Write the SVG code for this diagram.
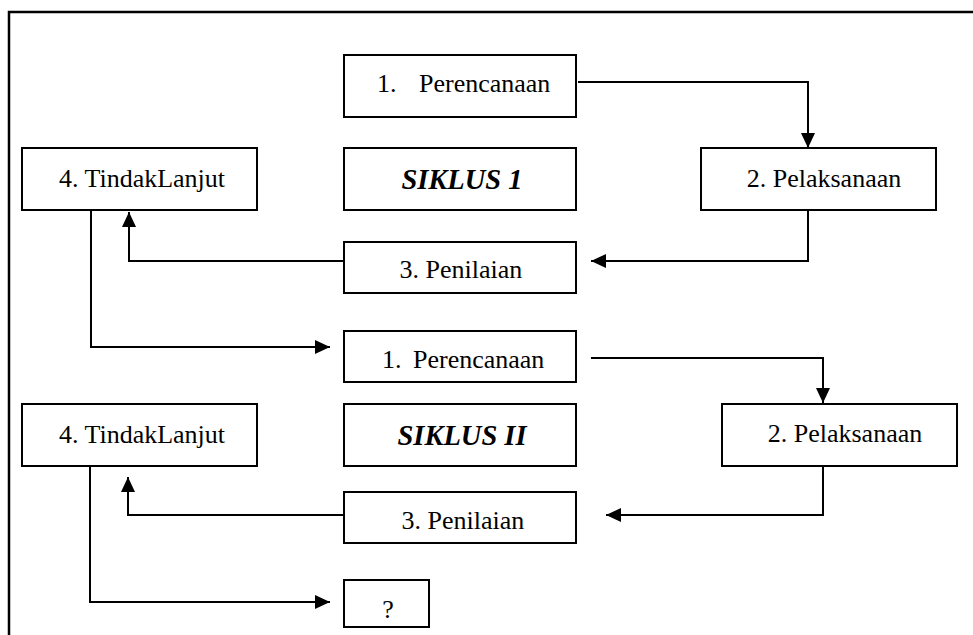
<svg xmlns="http://www.w3.org/2000/svg" width="973" height="635" viewBox="0 0 973 635">
<style>
.box{fill:#fff;stroke:#000;stroke-width:2}
.t{font-family:'Liberation Serif','Times New Roman','DejaVu Serif',serif;font-size:26px;fill:#000}
.s{font-family:'Liberation Serif','Times New Roman','DejaVu Serif',serif;font-size:28.5px;font-weight:bold;font-style:italic;fill:#000}
.c{fill:none;stroke:#000;stroke-width:2}
</style>
<defs>
<marker id="ah" markerUnits="userSpaceOnUse" markerWidth="15" markerHeight="14" refX="15" refY="7" orient="auto">
<path d="M0,0 L15,7 L0,14 Z" fill="#000"/>
</marker>
</defs>
<rect width="973" height="635" fill="#fff"/>
<path d="M9,635 V12 H973" fill="none" stroke="#000" stroke-width="2.5"/>
<g id="connectors">
<path class="c" d="M578,82 H808 V148" marker-end="url(#ah)"/>
<path class="c" d="M808,210 V261 H591" marker-end="url(#ah)"/>
<path class="c" d="M344,261 H129 V212" marker-end="url(#ah)"/>
<path class="c" d="M91,210 V347 H330" marker-end="url(#ah)"/>
<path class="c" d="M591,358 H823 V403" marker-end="url(#ah)"/>
<path class="c" d="M823,466 V515 H606" marker-end="url(#ah)"/>
<path class="c" d="M344,515 H128 V477" marker-end="url(#ah)"/>
<path class="c" d="M90,466 V602 H330" marker-end="url(#ah)"/>
</g>
<g id="perencanaan1"><rect class="box" x="344" y="55" width="232" height="62"/><text class="t" y="92"><tspan x="377">1.</tspan><tspan x="419">Perencanaan</tspan></text></g>
<g id="pelaksanaan1"><rect class="box" x="701" y="148" width="235" height="62"/><text class="t" x="824" y="187" text-anchor="middle">2. Pelaksanaan</text></g>
<g id="siklus1"><rect class="box" x="344" y="148" width="232" height="62"/><text class="s" x="462" y="189" text-anchor="middle">SIKLUS 1</text></g>
<g id="tindaklanjut1"><rect class="box" x="22" y="148" width="235" height="62"/><text class="t" x="142" y="187" text-anchor="middle">4. TindakLanjut</text></g>
<g id="penilaian1"><rect class="box" x="344" y="242" width="232" height="51"/><text class="t" x="461" y="278" text-anchor="middle">3. Penilaian</text></g>
<g id="perencanaan2"><rect class="box" x="344" y="331" width="232" height="51"/><text class="t" y="368"><tspan x="382">1.</tspan><tspan x="413">Perencanaan</tspan></text></g>
<g id="pelaksanaan2"><rect class="box" x="722" y="404" width="235" height="62"/><text class="t" x="845" y="442" text-anchor="middle">2. Pelaksanaan</text></g>
<g id="siklus2"><rect class="box" x="344" y="404" width="232" height="62"/><text class="s" x="462" y="445" text-anchor="middle">SIKLUS II</text></g>
<g id="tindaklanjut2"><rect class="box" x="22" y="404" width="235" height="62"/><text class="t" x="142" y="443" text-anchor="middle">4. TindakLanjut</text></g>
<g id="penilaian2"><rect class="box" x="344" y="492" width="232" height="51"/><text class="t" x="463" y="529" text-anchor="middle">3. Penilaian</text></g>
<g id="question"><rect class="box" x="344" y="580" width="85" height="47"/><text class="t" x="388" y="618" text-anchor="middle">?</text></g>
</svg>
